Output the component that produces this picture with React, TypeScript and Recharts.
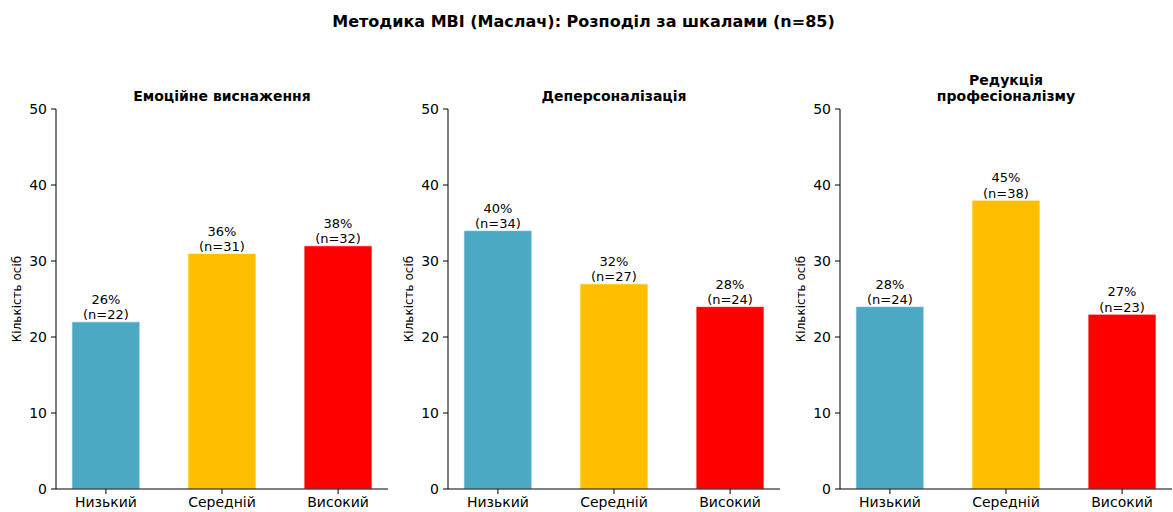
import { BarChart, Bar, XAxis, YAxis, Cell, LabelList } from "recharts";

const CATEGORIES = ["Низький", "Середній", "Високий"];
const COLORS = ["#4BA9C3", "#FFBF00", "#FF0000"];
const Y_TICKS = [0, 10, 20, 30, 40, 50];

const EXHAUSTION_N = [22, 31, 32];
const EXHAUSTION_PCT = [26, 36, 38];
const DEPERS_N = [34, 27, 24];
const DEPERS_PCT = [40, 32, 28];
const REDUCTION_N = [24, 38, 23];
const REDUCTION_PCT = [28, 45, 27];

const MAIN_TITLE = "Методика MBI (Маслач): Розподіл за шкалами (n=85)";
const Y_LABEL = "Кількість осіб";

const FONT = "'DejaVu Sans', sans-serif";

const panels = [
  { title: ["Емоційне виснаження"], n: EXHAUSTION_N, pct: EXHAUSTION_PCT },
  { title: ["Деперсоналізація"], n: DEPERS_N, pct: DEPERS_PCT },
  { title: ["Редукція", "професіоналізму"], n: REDUCTION_N, pct: REDUCTION_PCT },
];

const PANEL_W = 392;

// two-line label above each bar: "26%" / "(n=22)"
function BarLabel(props: any) {
  const { x, y, width, index } = props;
  const pct = props.pct[index];
  const n = props.n[index];
  const cx = x + width / 2;
  return (
    <text x={cx} y={y - 2.5} textAnchor="middle" fontSize={13} fontFamily={FONT} fill="#000">
      <tspan x={cx} dy="-1.18em">{`${pct}%`}</tspan>
      <tspan x={cx} dy="1.18em">{`(n=${n})`}</tspan>
    </text>
  );
}

function Panel({ title, n, pct, left }: { title: string[]; n: number[]; pct: number[]; left: number }) {
  const data = n.map((v, i) => ({ idx: i, value: v }));
  return (
    <div style={{ position: "absolute", left, top: 0, width: PANEL_W, height: 512 }}>
      <BarChart width={PANEL_W} height={512} data={data} margin={{ top: 109, right: 4, left: 0, bottom: 0 }}>
        <XAxis
          type="number"
          dataKey="idx"
          domain={[-0.43, 2.43]}
          ticks={[0, 1, 2]}
          allowDataOverflow
          tickFormatter={(v: number) => CATEGORIES[v]}
          height={23}
          stroke="#000"
          tickSize={5}
          tickMargin={3}
          tick={{ fill: "#000", fontSize: 14, fontFamily: FONT }}
        />
        <YAxis
          domain={[0, 50]}
          ticks={Y_TICKS}
          width={56}
          stroke="#000"
          tickSize={5}
          tickMargin={4}
          tick={{ fill: "#000", fontSize: 14, fontFamily: FONT }}
          label={{
            content: (p: any) => {
              const vb = p.viewBox;
              const cy = vb.y + vb.height / 2;
              return (
                <text
                  x={17}
                  y={cy}
                  transform={`rotate(-90, 17, ${cy})`}
                  textAnchor="middle"
                  dominantBaseline="middle"
                  fontSize={12}
                  fontFamily={FONT}
                  fill="#000"
                >
                  {Y_LABEL}
                </text>
              );
            },
          }}
        />
        <Bar dataKey="value" barSize={68} stroke="#fff" strokeWidth={0.7} isAnimationActive={false}>
          {data.map((_, i) => (
            <Cell key={i} fill={COLORS[i]} />
          ))}
          <LabelList dataKey="value" content={(p: any) => <BarLabel {...p} n={n} pct={pct} />} />
        </Bar>
      </BarChart>
      <div
        style={{
          position: "absolute",
          left: 56,
          width: 332,
          bottom: 512 - 104,
          textAlign: "center",
          fontFamily: FONT,
          fontWeight: "bold",
          fontSize: 14,
          lineHeight: "16px",
          color: "#000",
        }}
      >
        {title.map((t, i) => (
          <div key={i}>{t}</div>
        ))}
      </div>
    </div>
  );
}

export default function App() {
  return (
    <div style={{ position: "absolute", left: 0, top: 0, width: 1173, height: 512, background: "#fff", overflow: "hidden" }}>
      <div
        style={{
          position: "absolute",
          left: -3,
          top: 12,
          width: 1173,
          textAlign: "center",
          fontFamily: FONT,
          fontWeight: "bold",
          fontSize: 16,
          lineHeight: "20px",
          color: "#000",
        }}
      >
        {MAIN_TITLE}
      </div>
      {panels.map((p, i) => (
        <Panel key={i} title={p.title} n={p.n} pct={p.pct} left={i * PANEL_W} />
      ))}
    </div>
  );
}
